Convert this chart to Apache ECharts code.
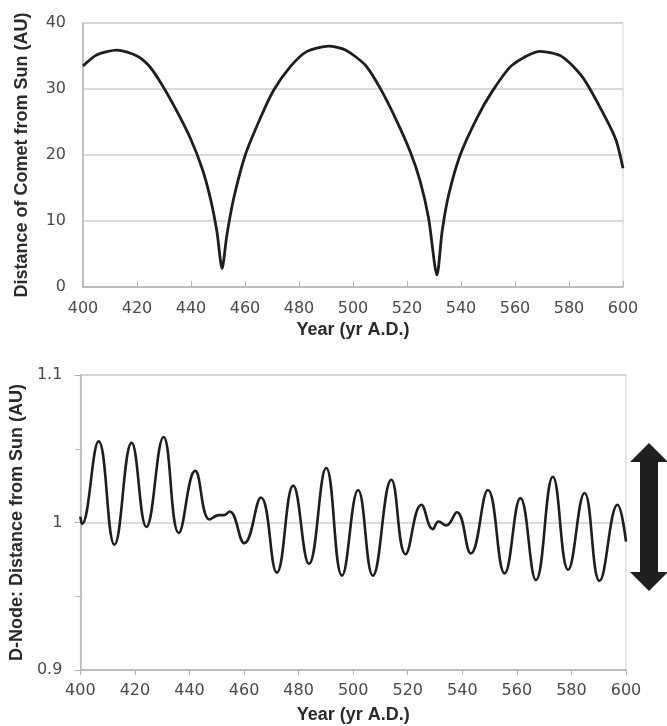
<!DOCTYPE html>
<html>
<head>
<meta charset="utf-8">
<script src="https://cdn.jsdelivr.net/npm/echarts@6/dist/echarts.min.js"></script>
<style>
  html, body { margin: 0; padding: 0; background: #fff; }
  #chart { width: 667px; height: 726px; }
</style>
</head>
<body>
<div id="chart"></div>
<script>
// top panel: comet distance (AU)
const cometYears = [400, 405.2, 412.6, 420, 424.9, 429.3, 434.8, 439.8, 444.1, 447.2, 449.6, 451.5, 453.3, 455.8, 460.1, 465.7, 470.6, 476.8, 483, 491,
  497.2, 504.6, 510.1, 515.7, 521.2, 524.9, 528, 531.1, 533, 535.4, 539.7, 545.9, 551.5, 558.9, 569.4, 577.4, 584.8, 591, 597.2, 600]
const cometDist = [33.5, 35.2, 35.9, 35.0, 33.3, 30.6, 26.6, 22.5, 18.0, 13.4, 8.4, 2.8, 7.9, 13.4, 20, 25.6, 29.8, 33.4, 35.7, 36.5,
  35.9, 33.6, 30.1, 25.6, 20.5, 16, 10.4, 1.8, 8.4, 13.9, 20, 25.6, 29.6, 33.6, 35.7, 34.9, 31.9, 27.6, 22.5, 18.0]

// bottom panel: D-node distance (AU)
const nodeYears = [400, 400.6, 406.7, 412.5, 418.8, 424.2, 430.5, 436.1, 442.1, 447.4, 450.8, 452.6, 454.7, 460.1, 466.2, 472.0, 478.0, 483.8, 490.1, 495.9,
  501.8, 507.2, 514.0, 519.2, 525.0, 529.2, 531.3, 534.1, 538.0, 543.1, 549.4, 555.5, 561.3, 567.0, 573.2, 578.8, 584.8, 590.3, 596.9, 600]
const nodeDist = [1.004, 0.999, 1.055, 0.985, 1.054, 0.997, 1.058, 0.993, 1.035, 1.002, 1.005, 1.005, 1.0075, 0.986, 1.017, 0.966, 1.025, 0.972, 1.037, 0.964,
  1.022, 0.964, 1.029, 0.9785, 1.012, 0.9955, 1.0007, 0.998, 1.007, 0.979, 1.022, 0.9655, 1.0165, 0.961, 1.031, 0.968, 1.020, 0.9605, 1.012, 0.987]

const xLabel = 'Year (yr A.D.)'
const yLabelTop = 'Distance of Comet from Sun (AU)'
const yLabelBottom = 'D-Node: Distance from Sun (AU)'

const tickFont = { color: '#4a4a4a', fontSize: 16, fontFamily: 'DejaVu Sans' }
const nameFont = { color: '#2a2a2a', fontSize: 18, fontWeight: 'bold', fontFamily: 'Liberation Sans' }
const axisGray = '#b4b4b4'
const gridGray = '#cfcfcf'

function pairs(xs, ys) {
  return xs.map((x, i) => [x, ys[i]])
}

const chart = echarts.init(document.getElementById('chart'))

chart.setOption({
  animation: false,
  grid: [
    { left: 83, right: 44, top: 23, height: 264, show: true, borderColor: gridGray, borderWidth: 1 },
    { left: 75, right: 41, top: 375, height: 295, show: true, borderColor: gridGray, borderWidth: 1 }
  ],
  xAxis: [{
    gridIndex: 0,
    type: 'value',
    min: 400,
    max: 600,
    interval: 20,
    name: xLabel,
    nameLocation: 'middle',
    nameGap: 34,
    nameTextStyle: nameFont,
    axisLine: { lineStyle: { color: axisGray, width: 1.5 } },
    axisTick: { inside: true, length: 6, lineStyle: { color: axisGray } },
    axisLabel: Object.assign({ margin: 14 }, tickFont),
    splitLine: { show: false }
  }, {
    gridIndex: 1,
    type: 'value',
    min: 400,
    max: 600,
    interval: 20,
    name: xLabel,
    nameLocation: 'middle',
    nameGap: 36,
    nameTextStyle: nameFont,
    axisLine: { lineStyle: { color: axisGray, width: 1.5 } },
    axisTick: { length: 5, lineStyle: { color: axisGray } },
    axisLabel: Object.assign({ margin: 13 }, tickFont),
    splitLine: { show: false }
  }],
  yAxis: [{
    gridIndex: 0,
    type: 'value',
    min: 0,
    max: 40,
    interval: 10,
    name: yLabelTop,
    nameLocation: 'middle',
    nameGap: 52,
    nameTextStyle: nameFont,
    axisLine: { show: true, lineStyle: { color: axisGray, width: 1.5 } },
    axisTick: { show: false },
    axisLabel: Object.assign({ margin: 17 }, tickFont),
    splitLine: { lineStyle: { color: gridGray, width: 1.5 } }
  }, {
    gridIndex: 1,
    type: 'value',
    min: 0.9,
    max: 1.1,
    interval: 0.1,
    name: yLabelBottom,
    nameLocation: 'middle',
    nameGap: 47,
    nameTextStyle: nameFont,
    axisLine: { show: true, lineStyle: { color: axisGray, width: 1.5 } },
    axisTick: { show: true, length: 6, lineStyle: { color: axisGray } },
    minorTick: { show: true, splitNumber: 2, length: 5, lineStyle: { color: axisGray } },
    axisLabel: Object.assign({ margin: 18 }, tickFont),
    splitLine: { lineStyle: { color: gridGray, width: 1.5 } }
  }],
  series: [{
    type: 'line',
    xAxisIndex: 0,
    yAxisIndex: 0,
    data: pairs(cometYears, cometDist),
    smooth: 0.25,
    showSymbol: false,
    lineStyle: { color: '#1e1e1e', width: 2.8 }
  }, {
    type: 'line',
    xAxisIndex: 1,
    yAxisIndex: 1,
    data: pairs(nodeYears, nodeDist),
    smooth: 0.45,
    showSymbol: false,
    lineStyle: { color: '#1e1e1e', width: 2.6 }
  }],
  graphic: [{
    // double-headed arrow next to the lower panel
    type: 'polygon',
    shape: {
      points: [[649, 443], [668, 462], [658, 462], [658, 572], [668, 572], [649, 591],
        [630, 572], [640, 572], [640, 462], [630, 462]]
    },
    style: { fill: '#1f1f1f' }
  }]
})
</script>
</body>
</html>
